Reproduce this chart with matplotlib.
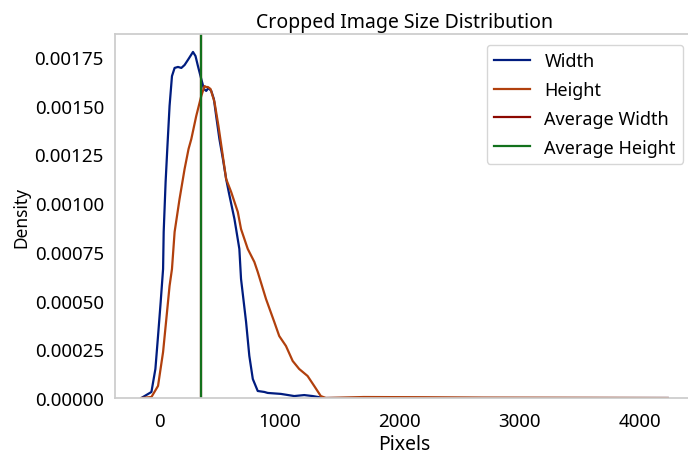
import matplotlib
matplotlib.use("Agg")
import matplotlib.pyplot as plt

# density curves (pixels -> density), read at the knots of each KDE
width_px = [-150, -66, -33, -11, 11, 31, 36, 52, 66, 85, 105, 127, 155, 183, 210, 243, 280,
            301, 321, 349, 371, 390, 409, 432, 454, 473, 500, 529, 556, 581, 625, 639, 666,
            680, 722, 749, 778, 819, 874, 902, 1012, 1123, 1206, 1276, 1370, 2500, 4232]
width_density = [0.0, 0.000031, 0.000149, 0.000318, 0.000493, 0.000662, 0.000852, 0.001108,
                 0.001278, 0.001499, 0.001652, 0.001694, 0.001699, 0.001694, 0.001709,
                 0.00174, 0.001776, 0.001755, 0.001704, 0.001637, 0.001586, 0.001576,
                 0.001591, 0.001576, 0.001534, 0.001447, 0.001329, 0.001227, 0.001124,
                 0.001047, 0.000919, 0.000867, 0.000765, 0.000611, 0.00039, 0.000216,
                 0.0000975, 0.000036, 0.000031, 0.000026, 0.000021, 0.00001, 0.000015,
                 0.00001, 0.0, 0.0, 0.0]

height_px = [-150, -66, -11, 31, 58, 85, 105, 127, 168, 210, 243, 266, 307, 349, 376, 390,
             404, 426, 459, 492, 520, 556, 598, 653, 680, 736, 791, 819, 888, 957, 998, 1054,
             1110, 1164, 1234, 1289, 1344, 1386, 1700, 2200, 2700, 4232]
height_density = [0.0, 0.000005, 0.000062, 0.000236, 0.000405, 0.000575, 0.000662, 0.000852,
                  0.001021, 0.001175, 0.001278, 0.001329, 0.001447, 0.00155, 0.001601,
                  0.001596, 0.001596, 0.001586, 0.001519, 0.001396, 0.001278, 0.001124,
                  0.001057, 0.000955, 0.000867, 0.000765, 0.000698, 0.000647, 0.000508,
                  0.00039, 0.000318, 0.000267, 0.00019, 0.000149, 0.000113, 0.000062,
                  0.00001, 0.0, 0.000005, 0.000004, 0.000002, 0.0]

avg_width = 349
avg_height = 349

yticks = [0.0, 0.00025, 0.0005, 0.00075, 0.001, 0.00125, 0.0015, 0.00175]
xticks = [0, 1000, 2000, 3000, 4000]

plt.rcParams['font.family'] = ['Noto Sans', 'DejaVu Sans']

fig = plt.figure(figsize=(6.88, 4.56), dpi=100)
ax = fig.add_axes([0.1672, 0.125, 0.8415, 0.7982])

ax.plot(width_px, width_density, color='#001c7f', lw=1.6, label='Width')
ax.plot(height_px, height_density, color='#b1400d', lw=1.6, label='Height')
ax.axvline(avg_width, color='#8c0800', lw=1.6, label='Average Width')
ax.axvline(avg_height, color='#12711c', lw=1.6, label='Average Height')

ax.set_xlim(-369, 4451)
ax.set_ylim(0, 0.001868)
ax.set_xticks(xticks)
ax.set_yticks(yticks)
ax.set_yticklabels([f'{v:.5f}' for v in yticks])
ax.tick_params(length=0, labelsize=13.5)
ax.tick_params(axis='x', pad=10)
ax.tick_params(axis='y', pad=8)

for s in ax.spines.values():
    s.set_color('#cccccc')
    s.set_linewidth(1.25)

ax.set_title('Cropped Image Size Distribution', fontsize=14, pad=5)
ax.set_xlabel('Pixels', fontsize=14, labelpad=3)
ax.set_ylabel('Density', fontsize=12.5, labelpad=3)
ax.legend(loc='upper right', fontsize=13, borderaxespad=0.6, labelspacing=0.6,
          handlelength=2.0)

fig.savefig('out.png', dpi=100)
